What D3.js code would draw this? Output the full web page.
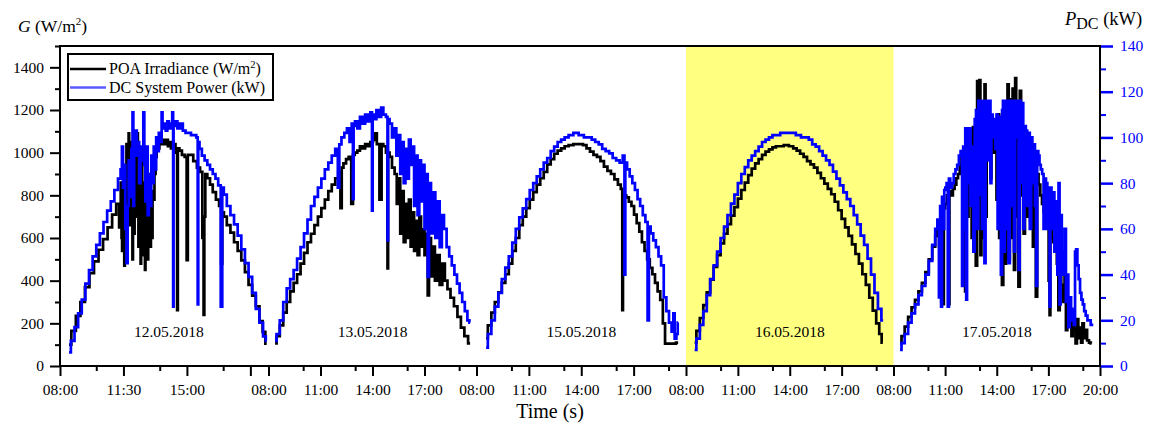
<!DOCTYPE html>
<meta charset="utf-8">
<style>
  body { margin: 0; background: #fff; }
  svg text { font-family: "Liberation Serif", "Times New Roman", serif; fill: #000; }
</style>
<svg width="1155" height="428"></svg>
<script src="https://cdn.jsdelivr.net/npm/d3@7"></script>
<script>

// ---- data ----
var dates = ["12.05.2018", "13.05.2018", "15.05.2018", "16.05.2018", "17.05.2018"];
var dayStart = [8, 8, 8, 8, 8];
var dayEnd = [19.5, 20, 20, 20, 20];
var highlightDay = "16.05.2018";

// tick hours per day, with their labels ("" = tick without label)
var majorTicks = [[8, 11.5, 15, 18.5], [8, 11, 14, 17], [8, 11, 14, 17], [8, 11, 14, 17], [8, 11, 14, 17, 20]];
var majorLabels = [["08:00", "11:30", "15:00", ""], ["08:00", "11:00", "14:00", "17:00"], ["08:00", "11:00", "14:00", "17:00"],
                   ["08:00", "11:00", "14:00", "17:00"], ["08:00", "11:00", "14:00", "17:00", "20:00"]];
var minorTicks = [[10, 13.5, 17], [10, 13, 16, 19], [10, 13, 16, 19], [10, 13, 16, 19], [10, 13, 16, 19]];

var gTicks = [0, 200, 400, 600, 800, 1000, 1200, 1400];
var gMinor = [100, 300, 500, 700, 900, 1100, 1300, 1500];
var pTicks = [0, 20, 40, 60, 80, 100, 120, 140];
var pMinor = [10, 30, 50, 70, 90, 110, 130];

// POA irradiance G (W/m2), [hour, value]
var g1 = [[8.5,100],[8.75,165],[9.0,235],[9.25,300],[9.5,370],[9.75,435],[10.0,490],[10.25,545],[10.5,595],[10.75,650],[11.0,710],[11.2,760],
  [11.32,650],[11.38,860],[11.41,600],[11.44,540],[11.47,780],[11.5,900],[11.53,620],[11.56,470],[11.59,700],[11.62,820],[11.65,560],[11.68,1040],
  [11.71,880],[11.74,700],[11.77,960],[11.8,1090],[11.83,740],[11.86,900],[11.89,660],[11.92,1050],[11.95,880],[11.98,760],[12.01,500],
  [12.04,1000],[12.07,800],[12.1,620],[12.13,900],[12.16,1070],[12.19,700],[12.22,830],[12.25,980],[12.28,1090],[12.31,760],[12.34,560],[12.37,820],
  [12.4,700],[12.43,900],[12.46,480],[12.49,760],[12.52,980],[12.55,700],[12.58,640],[12.61,860],[12.64,520],[12.67,680],[12.7,450],[12.73,740],
  [12.76,600],[12.79,900],[12.82,820],[12.85,500],[12.88,600],[12.91,850],[12.94,760],[12.97,620],[13.0,560],[13.03,800],[13.06,700],[13.09,600],
  [13.12,820],[13.18,780],[13.24,900],[13.3,980],[13.36,1060],[13.44,1020],
  [13.52,1070],[13.6,1040],[13.7,1060],[13.8,1040],[13.9,1060],[14.0,1030],[14.08,1050],[14.16,1020],[14.3,1040],[14.44,1000],[14.48,262],[14.52,1020],
  [14.65,1010],[14.8,990],[14.95,980],[15.02,496],[15.08,990],[15.25,990],[15.45,960],[15.65,930],[15.8,910],[15.9,600],[15.94,239],[15.98,700],
  [16.05,900],[16.2,880],[16.35,850],[16.5,815],[16.7,780],[16.85,750],[16.92,480],[16.98,720],[17.1,700],[17.3,660],[17.5,625],[17.7,580],
  [17.9,540],[18.1,495],[18.3,440],[18.5,380],[18.7,330],[18.9,280],[19.1,210],[19.25,160],[19.4,105]];
var g2 = [[8.38,106],[8.55,140],[8.75,190],[8.95,250],[9.15,300],[9.35,350],[9.55,390],[9.75,430],[9.95,480],[10.15,530],[10.35,580],[10.55,620],
  [10.75,660],[10.95,700],[11.15,740],[11.35,780],[11.55,820],[11.75,850],[11.95,880],[12.1,910],[12.2,740],[12.25,930],[12.4,950],[12.55,970],
  [12.7,980],[12.85,760],[12.9,990],[13.05,1000],[13.2,1010],[13.35,1030],[13.5,1020],[13.65,1040],[13.8,1030],[13.95,1050],[14.1,1060],[14.2,1090],
  [14.3,1040],[14.5,780],[14.55,1040],[14.7,1030],[14.85,1000],[14.88,457],[14.92,1000],[15.05,980],[15.2,930],[15.35,900],[15.45,760],[15.55,880],
  [15.65,620],[15.75,820],[15.85,580],[15.95,760],[16.05,600],[16.15,780],[16.25,560],[16.35,720],[16.45,540],[16.55,680],[16.65,520],[16.75,700],
  [16.85,560],[16.95,640],[17.05,520],[17.15,620],[17.22,331],[17.3,600],[17.45,420],[17.55,560],[17.65,400],[17.8,520],[17.95,380],[18.1,480],
  [18.25,400],[18.4,360],[18.6,320],[18.8,280],[19.0,230],[19.2,180],[19.4,140],[19.63,106]];
var g3 = [[8.55,130],[8.75,190],[8.95,250],[9.15,300],[9.35,345],[9.55,390],[9.75,430],[9.95,480],[10.15,540],[10.35,600],[10.55,660],[10.75,700],
  [10.95,740],[11.15,780],[11.35,815],[11.55,850],[11.75,880],[11.95,910],[12.15,945],[12.35,970],[12.55,995],[12.75,1010],[12.95,1020],[13.15,1030],
  [13.4,1035],[13.7,1040],[14.0,1040],[14.2,1035],[14.4,1020],[14.6,1005],[14.8,990],[15.0,980],[15.2,960],[15.4,935],[15.6,915],[15.8,900],
  [16.0,875],[16.2,850],[16.33,830],[16.37,262],[16.41,500],[16.45,434],[16.5,800],[16.65,790],[16.8,770],[16.95,750],[17.1,710],[17.25,670],
  [17.4,630],[17.55,580],[17.7,540],[17.85,500],[18.0,460],[18.15,430],[18.3,390],[18.45,350],[18.6,310],[18.75,200],[18.85,105],[19.1,105],
  [19.3,105],[19.55,110]];
var g4 = [[8.5,110],[8.7,165],[8.9,225],[9.1,285],[9.3,345],[9.5,405],[9.7,465],[9.9,520],[10.1,575],[10.3,620],[10.5,665],[10.7,705],[10.9,745],
  [11.1,785],[11.3,825],[11.5,860],[11.7,895],[11.9,925],[12.1,950],[12.3,970],[12.5,990],[12.7,1005],[12.9,1015],[13.1,1025],[13.3,1030],[13.5,1030],
  [13.8,1035],[14.1,1030],[14.3,1020],[14.5,1010],[14.7,995],[14.9,980],[15.1,960],[15.3,945],[15.5,930],[15.7,905],[15.9,880],[16.1,855],
  [16.3,830],[16.5,805],[16.7,770],[16.9,730],[17.1,690],[17.3,650],[17.5,610],[17.7,570],[17.9,525],[18.1,480],[18.3,430],[18.5,380],[18.7,320],
  [18.9,260],[19.1,200],[19.25,150],[19.38,110]];
var g5 = [[8.38,106],[8.55,140],[8.75,185],[8.95,230],[9.15,275],[9.35,310],[9.55,350],[9.75,390],[9.95,440],[10.15,500],[10.35,560],[10.5,610],
  [10.6,640],[10.7,560],[10.75,700],[10.8,300],[10.85,720],[10.9,290],[10.95,740],[11.05,760],[11.15,800],[11.22,290],[11.28,820],[11.4,800],
  [11.5,830],[11.6,850],[11.7,880],[11.8,900],[11.9,940],[12.0,980],[12.06,380],[12.12,1000],[12.2,350],[12.26,1080],[12.32,700],[12.4,1100],
  [12.5,900],[12.58,600],[12.66,1120],[12.74,560],[12.82,470],[12.9,1335],[12.96,900],[13.02,1340],[13.08,520],[13.14,1100],[13.2,600],[13.26,1200],
  [13.32,1320],[13.38,700],[13.45,1150],[13.52,1000],[13.6,1150],[13.66,880],[13.72,1050],[13.8,1120],[13.88,1000],[13.95,1150],[14.02,780],
  [14.1,1180],[14.18,600],[14.26,1050],[14.34,380],[14.42,1100],[14.5,480],[14.58,1200],[14.67,1320],[14.72,500],[14.8,1250],[14.88,600],
  [14.96,1300],[15.04,450],[15.1,1350],[15.16,700],[15.22,1200],[15.3,372],[15.38,1290],[15.45,800],[15.52,1100],[15.6,620],[15.68,1080],
  [15.74,1060],[15.82,700],[15.9,1000],[15.98,680],[16.06,960],[16.14,560],[16.22,940],[16.32,325],[16.38,900],[16.48,850],[16.58,800],[16.68,760],
  [16.78,720],[16.88,690],[16.98,660],[17.05,400],[17.09,238],[17.14,640],[17.24,600],[17.34,580],[17.44,560],[17.54,480],[17.62,262],[17.7,500],
  [17.8,380],[17.9,300],[17.98,420],[18.06,168],[18.14,300],[18.22,200],[18.3,250],[18.38,140],[18.46,200],[18.54,170],[18.62,106],[18.7,220],
  [18.78,130],[18.86,180],[18.94,110],[19.02,200],[19.1,130],[19.2,170],[19.3,120],[19.42,110],[19.51,106]];

// DC system power P (kW), [hour, value]
var p1 = [[8.5,6],[8.7,11],[8.9,17],[9.1,23],[9.3,29],[9.5,36],[9.7,42],[9.9,48],[10.1,53],[10.3,58],[10.5,63],[10.7,68],[10.9,72],[11.1,77],[11.3,82],
  [11.38,86],[11.45,96],[11.5,78],[11.57,88],[11.63,60],[11.7,45],[11.76,70],[11.82,90],[11.9,74],[11.97,95],[12.03,111],[12.06,70],[12.12,95],
  [12.2,103],[12.27,92],[12.33,98],[12.4,80],[12.48,96],[12.56,90],[12.63,111],[12.67,88],[12.74,72],[12.8,96],[12.87,66],[12.93,84],[13.0,70],
  [13.07,92],[13.14,80],[13.2,96],[13.27,86],[13.34,100],[13.4,94],[13.5,102],[13.58,98],[13.63,111],[13.68,104],[13.78,106],[13.88,103],[13.96,107],
  [14.05,104],[14.15,106],[14.23,111],[14.25,26],[14.28,105],[14.4,107],[14.55,104],[14.7,106],[14.85,103],[15.0,102],[15.15,102],[15.3,101],
  [15.45,101],[15.58,100],[15.61,27],[15.64,98],[15.75,95],[15.9,92],[16.05,90],[16.2,88],[16.35,86],[16.5,84],[16.65,82],[16.8,79],[16.93,26],
  [16.97,78],[17.1,75],[17.3,70],[17.5,66],[17.7,62],[17.9,57],[18.1,51],[18.3,45],[18.5,39],[18.7,32],[18.9,25],[19.1,19],[19.3,13],[19.4,11]];
var p2 = [[8.38,11],[8.55,14],[8.75,20],[8.95,28],[9.15,34],[9.35,38],[9.55,42],[9.75,47],[9.95,52],[10.15,58],[10.35,64],[10.55,70],[10.75,74],
  [10.95,78],[11.15,82],[11.35,86],[11.55,89],[11.75,92],[11.95,95],[12.05,78],[12.12,97],[12.3,100],[12.45,102],[12.6,104],[12.75,98],[12.85,106],
  [12.89,73],[12.93,105],[13.05,107],[13.2,104],[13.35,109],[13.5,106],[13.65,110],[13.8,107],[13.95,111],[13.99,68],[14.03,110],[14.15,108],
  [14.3,112],[14.45,109],[14.55,113],[14.7,110],[14.85,109],[14.88,55],[14.92,108],[15.05,106],[15.2,100],[15.3,104],[15.45,92],[15.55,101],
  [15.65,84],[15.75,98],[15.85,80],[15.95,95],[16.05,82],[16.15,99],[16.25,88],[16.35,96],[16.45,70],[16.55,92],[16.65,66],[16.75,90],[16.85,72],
  [16.95,88],[17.05,60],[17.15,84],[17.22,39],[17.3,80],[17.45,58],[17.55,76],[17.7,56],[17.8,72],[17.95,52],[18.05,66],[18.2,60],[18.35,52],
  [18.5,48],[18.65,44],[18.8,40],[18.95,36],[19.1,32],[19.25,28],[19.4,24],[19.55,20],[19.63,19]];
var p3 = [[8.55,8],[8.75,14],[8.95,20],[9.15,26],[9.35,32],[9.55,38],[9.75,43],[9.95,48],[10.15,54],[10.35,60],[10.55,65],[10.75,69],[10.95,73],
  [11.15,77],[11.35,80],[11.55,83],[11.75,86],[11.95,89],[12.15,91],[12.35,94],[12.55,96],[12.75,98],[12.95,99],[13.15,100],[13.4,101],[13.7,102],
  [14.0,101],[14.3,100],[14.5,100],[14.7,99],[14.9,98],[15.1,97],[15.3,95],[15.5,94],[15.7,93],[15.9,91],[16.1,90],[16.3,89],[16.45,92],[16.5,40],
  [16.55,89],[16.7,86],[16.85,83],[17.0,80],[17.15,77],[17.3,73],[17.45,70],[17.6,66],[17.75,63],[17.85,20],[17.9,61],[18.05,58],[18.2,55],
  [18.35,52],[18.5,48],[18.65,44],[18.8,30],[18.95,24],[19.1,19],[19.25,15],[19.3,23],[19.4,12],[19.5,14],[19.55,19]];
var p4 = [[8.5,7],[8.7,12],[8.9,18],[9.1,24],[9.3,31],[9.5,38],[9.7,44],[9.9,50],[10.1,56],[10.3,61],[10.5,66],[10.7,71],[10.9,75],[11.1,80],
  [11.3,84],[11.5,87],[11.7,90],[11.9,92],[12.1,94],[12.3,96],[12.5,98],[12.7,99],[12.9,100],[13.1,101],[13.3,101],[13.6,102],[13.9,102],[14.2,102],
  [14.5,101],[14.8,100],[15.0,100],[15.2,99],[15.4,97],[15.6,96],[15.8,94],[16.0,92],[16.2,90],[16.4,88],[16.6,85],[16.8,82],[17.0,79],[17.2,76],
  [17.4,73],[17.6,70],[17.8,66],[18.0,62],[18.2,57],[18.4,53],[18.6,47],[18.8,40],[19.0,32],[19.2,25],[19.4,20]];
var p5 = [[8.38,7],[8.55,10],[8.75,14],[8.95,19],[9.15,23],[9.35,27],[9.55,31],[9.75,35],[9.95,40],[10.15,46],[10.35,53],[10.5,60],[10.6,64],
  [10.68,30],[10.74,70],[10.79,26],[10.85,74],[10.92,60],[10.98,77],[11.05,78],[11.12,80],[11.19,26],[11.25,82],[11.35,78],[11.45,80],[11.55,84],
  [11.65,86],[11.75,88],[11.85,92],[11.95,94],[12.02,35],[12.08,96],[12.14,60],[12.2,104],[12.25,29],[12.3,104],[12.38,80],[12.44,104],[12.52,70],
  [12.6,96],[12.68,50],[12.76,108],[12.83,112],[12.9,60],[12.96,116],[13.04,75],[13.1,116],[13.18,60],[13.25,116],[13.32,45],[13.38,116],[13.46,90],
  [13.54,116],[13.61,116],[13.66,80],[13.72,110],[13.8,100],[13.88,108],[13.95,95],[14.02,110],[14.08,60],[14.14,104],[14.2,109],[14.28,40],
  [14.34,112],[14.38,116],[14.44,50],[14.5,116],[14.58,60],[14.64,116],[14.72,45],[14.8,116],[14.88,70],[14.96,116],[15.04,50],[15.1,116],
  [15.18,100],[15.24,116],[15.3,42],[15.36,116],[15.44,80],[15.5,115],[15.58,60],[15.64,105],[15.74,103],[15.8,70],[15.88,102],[15.96,60],
  [16.04,100],[16.1,80],[16.18,97],[16.26,70],[16.32,35],[16.38,94],[16.45,92],[16.52,88],[16.6,86],[16.68,84],[16.76,60],[16.82,82],[16.9,80],
  [16.98,60],[17.05,78],[17.09,26],[17.14,78],[17.22,60],[17.3,76],[17.4,50],[17.48,72],[17.56,40],[17.62,80],[17.68,27],[17.74,66],[17.82,50],
  [17.9,40],[17.98,60],[18.06,28],[18.12,40],[18.2,17],[18.28,30],[18.36,20],[18.44,25],[18.52,18],[18.58,50],[18.65,51],[18.72,44],[18.8,38],
  [18.88,32],[18.96,29],[19.04,27],[19.12,24],[19.22,22],[19.32,20],[19.42,20],[19.5,18],[19.61,18]];

var gDays = [g1, g2, g3, g4, g5];
var pDays = [p1, p2, p3, p4, p5];

// ---- layout ----
var svg = d3.select("svg");
var margin = {top: 46, left: 60};
var width = 1040, height = 320;
var segEdges = [0, 208.5, 416.5, 626, 833.5, 1040];   // broken x axis, one segment per day
var blue = "#0000ff";

var g = svg.append("g").attr("transform", "translate(" + margin.left + "," + margin.top + ")");

var yG = d3.scaleLinear().domain([0, 1500]).range([height, 0]);
var yP = d3.scaleLinear().domain([0, 140]).range([height, 0]);
var xs = dates.map(function(d, i) {
  return d3.scaleLinear().domain([dayStart[i], dayEnd[i]]).range([segEdges[i], segEdges[i + 1]]);
});

// highlighted day
var hi = dates.indexOf(highlightDay);
g.append("rect")
  .attr("x", xs[hi](dayStart[hi])).attr("y", 0)
  .attr("width", xs[hi](dayEnd[hi]) - xs[hi](dayStart[hi])).attr("height", height)
  .attr("fill", "#ffff80");

// lines (stepped, like the logged data)
dates.forEach(function(d, i) {
  var lineG = d3.line().curve(d3.curveStep)
    .x(function(p) { return xs[i](p[0]); }).y(function(p) { return yG(p[1]); });
  g.append("path").datum(gDays[i]).attr("d", lineG)
    .attr("fill", "none").attr("stroke", "#000").attr("stroke-width", 2.7);
});
dates.forEach(function(d, i) {
  var lineP = d3.line().curve(d3.curveStep)
    .x(function(p) { return xs[i](p[0]); }).y(function(p) { return yP(p[1]); });
  g.append("path").datum(pDays[i]).attr("d", lineP)
    .attr("fill", "none").attr("stroke", blue).attr("stroke-width", 2.7);
});

// date labels
dates.forEach(function(d, i) {
  g.append("text").attr("x", xs[i](14)).attr("y", height - 29)
    .attr("text-anchor", "middle").attr("font-size", 15.5).text(d);
});

// x axis (one per segment)
dates.forEach(function(d, i) {
  g.append("g").attr("transform", "translate(0," + height + ")")
    .call(d3.axisBottom(xs[i]).tickValues(minorTicks[i]).tickSize(5).tickFormat(""))
    .call(function(a) { a.select(".domain").remove(); a.selectAll("line").attr("stroke-width", 2); });
  g.append("g").attr("transform", "translate(0," + height + ")")
    .call(d3.axisBottom(xs[i]).tickValues(majorTicks[i]).tickSize(10).tickPadding(8)
      .tickFormat(function(v, k) { return majorLabels[i][k]; }))
    .call(function(a) {
      a.select(".domain").remove();
      a.selectAll("line").attr("stroke-width", 2);
      a.selectAll("text").attr("font-size", 15.5).attr("font-family", "Liberation Serif");
    });
});

// left axis
g.append("g")
  .call(d3.axisLeft(yG).tickValues(gMinor).tickSize(5).tickFormat(""))
  .call(function(a) { a.select(".domain").remove(); a.selectAll("line").attr("stroke-width", 2); });
g.append("g")
  .call(d3.axisLeft(yG).tickValues(gTicks).tickSize(10).tickPadding(6).tickFormat(d3.format("d")))
  .call(function(a) {
    a.select(".domain").remove();
    a.selectAll("line").attr("stroke-width", 2);
    a.selectAll("text").attr("font-size", 15.5).attr("font-family", "Liberation Serif");
  });

// right axis (blue)
g.append("g").attr("transform", "translate(" + width + ",0)")
  .call(d3.axisRight(yP).tickValues(pMinor).tickSize(6).tickFormat(""))
  .call(function(a) { a.select(".domain").remove(); a.selectAll("line").attr("stroke", blue).attr("stroke-width", 2); });
g.append("g").attr("transform", "translate(" + width + ",0)")
  .call(d3.axisRight(yP).tickValues(pTicks).tickSize(13).tickPadding(7).tickFormat(d3.format("d")))
  .call(function(a) {
    a.select(".domain").remove();
    a.selectAll("line").attr("stroke", blue).attr("stroke-width", 2.5);
    a.selectAll("text").attr("font-size", 15.5).attr("font-family", "Liberation Serif").style("fill", blue);
  });

// frame
g.append("rect").attr("width", width).attr("height", height)
  .attr("fill", "none").attr("stroke", "#000").attr("stroke-width", 2);

// axis titles
var tG = svg.append("text").attr("x", 18).attr("y", 32).attr("font-size", 17.5);
tG.append("tspan").attr("font-style", "italic").text("G");
tG.append("tspan").text(" (W/m");
tG.append("tspan").attr("font-size", 11).attr("dy", -7).text("2");
tG.append("tspan").attr("dy", 7).text(")");

var tP = svg.append("text").attr("x", 1065).attr("y", 25).attr("font-size", 18.5);
tP.append("tspan").attr("font-style", "italic").text("P");
tP.append("tspan").attr("font-size", 16).attr("dy", 4).text("DC");
tP.append("tspan").attr("dy", -4).text(" (kW)");

svg.append("text").attr("x", 550).attr("y", 418).attr("text-anchor", "middle")
  .attr("font-size", 20).text("Time (s)");

// legend
var leg = g.append("g").attr("transform", "translate(8,8)");
leg.append("rect").attr("width", 205).attr("height", 46)
  .attr("fill", "#fff").attr("stroke", "#000").attr("stroke-width", 2);
leg.append("line").attr("x1", 2).attr("x2", 38).attr("y1", 15).attr("y2", 15)
  .attr("stroke", "#000").attr("stroke-width", 2.5);
leg.append("line").attr("x1", 2).attr("x2", 38).attr("y1", 33.5).attr("y2", 33.5)
  .attr("stroke", "#5a5aff").attr("stroke-width", 2.5);
var l1 = leg.append("text").attr("x", 41).attr("y", 20).attr("font-size", 16);
l1.append("tspan").text("POA Irradiance (W/m");
l1.append("tspan").attr("font-size", 10.5).attr("dy", -6).text("2");
l1.append("tspan").attr("dy", 6).text(")");
leg.append("text").attr("x", 41).attr("y", 39).attr("font-size", 16).text("DC System Power (kW)");

</script>
